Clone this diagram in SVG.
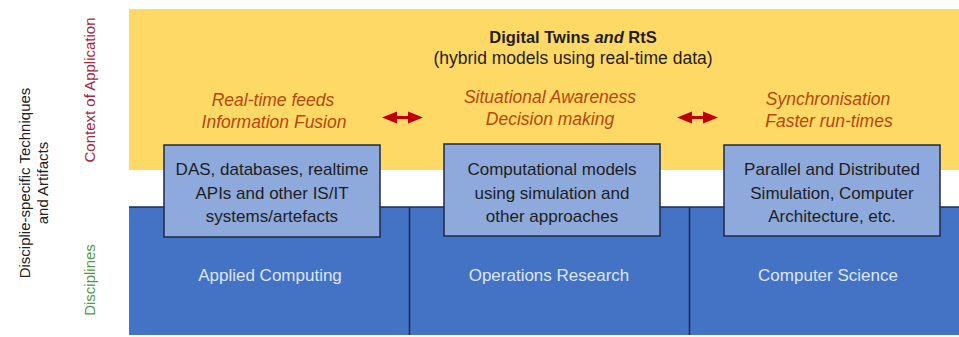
<svg xmlns="http://www.w3.org/2000/svg" width="959" height="337" viewBox="0 0 959 337">
  <defs>
    <style>
      text { font-family: "Liberation Sans", Arial, sans-serif; }
      .band-app { fill: #FFD966; }
      .band-disc { fill: #4472C4; }
      .divider { stroke: #1F2D4D; stroke-width: 1.5; fill: none; }
      .box { fill: #8EA9DB; stroke: #1F2A44; stroke-width: 1.5; }
      .box-text { font-size: 17px; fill: #1E1E1E; text-anchor: middle; }
      .disc-text { font-size: 17px; fill: #DDE6F6; text-anchor: middle; }
      .focus { font-size: 17.5px; font-style: italic; fill: #B5470F; text-anchor: middle; }
      .title { font-size: 16.5px; font-weight: bold; fill: #1E1E1E; text-anchor: middle; }
      .subtitle { font-size: 17.5px; fill: #1E1E1E; text-anchor: middle; }
      .side { font-size: 15px; text-anchor: middle; }
      .arrow { fill: #C00000; }
    </style>
  </defs>

  <rect width="959" height="337" fill="#FFFFFF"/>

  <!-- context of application band -->
  <g id="context-band">
    <rect class="band-app" x="129" y="9" width="830" height="161"/>
    <text class="title" x="573" y="43">Digital Twins <tspan font-style="italic">and</tspan> RtS</text>
    <text class="subtitle" x="573" y="64">(hybrid models using real-time data)</text>
  </g>

  <!-- disciplines band -->
  <g id="disciplines-band">
    <rect class="band-disc" x="129" y="207" width="830" height="128"/>
    <line class="divider" x1="129" y1="207" x2="959" y2="207"/>
    <line class="divider" x1="409.5" y1="207" x2="409.5" y2="335"/>
    <line class="divider" x1="689.5" y1="207" x2="689.5" y2="335"/>
  </g>

  <!-- side labels -->
  <g id="side-labels">
    <text class="side" fill="#222222" transform="translate(30,183) rotate(-90)">Disciplie-specific Techniques</text>
    <text class="side" fill="#222222" transform="translate(48,183) rotate(-90)">and Artifacts</text>
    <text class="side" fill="#A0283A" transform="translate(95,90) rotate(-90)">Context of Application</text>
    <text class="side" fill="#4F9A48" transform="translate(95,280) rotate(-90)">Disciplines</text>
  </g>

  <!-- applied computing column -->
  <g id="applied-computing">
    <text class="focus" x="273" y="106">Real-time feeds</text>
    <text class="focus" x="274" y="128">Information Fusion</text>
    <rect class="box" x="164" y="145" width="216" height="92"/>
    <text class="box-text" x="272" y="175">DAS, databases, realtime</text>
    <text class="box-text" x="272" y="198.5">APIs and other IS/IT</text>
    <text class="box-text" x="272" y="222">systems/artefacts</text>
    <text class="disc-text" x="270" y="281">Applied Computing</text>
  </g>

  <!-- operations research column -->
  <g id="operations-research">
    <text class="focus" x="550" y="103">Situational Awareness</text>
    <text class="focus" x="550" y="125">Decision making</text>
    <rect class="box" x="444" y="144" width="216" height="92"/>
    <text class="box-text" x="552" y="175">Computational models</text>
    <text class="box-text" x="552" y="198.5">using simulation and</text>
    <text class="box-text" x="552" y="222">other approaches</text>
    <text class="disc-text" x="549" y="281">Operations Research</text>
  </g>

  <!-- computer science column -->
  <g id="computer-science">
    <text class="focus" x="828" y="105">Synchronisation</text>
    <text class="focus" x="829" y="127">Faster run-times</text>
    <rect class="box" x="724" y="145" width="216" height="91"/>
    <text class="box-text" x="832" y="175">Parallel and Distributed</text>
    <text class="box-text" x="832" y="198.5">Simulation, Computer</text>
    <text class="box-text" x="832" y="222">Architecture, etc.</text>
    <text class="disc-text" x="828" y="281">Computer Science</text>
  </g>

  <!-- two-way links between the focus areas -->
  <g id="connectors">
    <path class="arrow" d="M382,117.5 L397,111.5 L397,116 L408,116 L408,111.5 L423,117.5 L408,123.5 L408,119 L397,119 L397,123.5 Z"/>
    <path class="arrow" d="M677,117.5 L692,111.5 L692,116 L703,116 L703,111.5 L718,117.5 L703,123.5 L703,119 L692,119 L692,123.5 Z"/>
  </g>
</svg>
